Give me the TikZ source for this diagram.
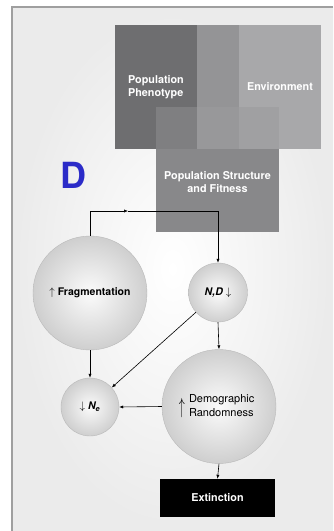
\documentclass[tikz,border=0pt]{standalone}
\usepackage{fontspec}
\setmainfont{TeX Gyre Heros}
\usetikzlibrary{arrows.meta}

\definecolor{phenogray}{HTML}{6E6E70}
\definecolor{envgray}{HTML}{A8A8AA}
\definecolor{midgray}{HTML}{949496}
\definecolor{structgray}{HTML}{88888A}
\definecolor{ovlA}{HTML}{7F7F81}
\definecolor{ovlB}{HTML}{98989A}
\definecolor{ovlC}{HTML}{A0A0A2}
\definecolor{dblue}{HTML}{2B2BC8}

\begin{document}
\begin{tikzpicture}[x=1pt,y=1pt]
    \tikzstyle{every node}+=[inner sep=0pt]
    \tikzstyle{box}=[rectangle, text=white, font=\bfseries\fontsize{10.8}{12.5}\selectfont, align=center]
    \tikzstyle{ball}=[circle, shade, shading=radial, inner color=gray!3, outer color=gray!38, draw=gray!55, line width=0.4pt, align=center]
    \tikzstyle{tip}=[black, line width=0.6pt, -{Latex[length=4pt,width=3.2pt]}]
    \useasboundingbox (0,0) rectangle (333,-531);
    % panel
    \shade [inner color=white, outer color=gray!16] (12,-7) rectangle (333,-531);
    \draw [gray!75, line width=1.5pt] (12,-531) -- (12,-7) -- (333,-7);
    % the three blocks
    \node [box, fill=phenogray, minimum width=82, minimum height=124, align=left] (pheno) at (156,-87) {Population\\Phenotype};
    \node [box, fill=envgray, minimum width=82, minimum height=124] (env) at (280,-87) {Environment};
    \fill [midgray] (pheno.north east) rectangle (env.south west);
    \node [box, fill=structgray, minimum width=123, minimum height=125] (struct) at (217.5,-169.5) {};
    \fill [ovlA] (struct.north west) rectangle (pheno.south east);
    \fill [ovlB] (pheno.south east) rectangle (env.south west |- struct.north);
    \fill [ovlC] (env.south west |- struct.north) rectangle (struct.east |- env.south);
    \node [box] (structlbl) at (217.5,-182) {Population Structure\\and Fitness};
    \node [text=dblue, font=\bfseries\fontsize{36}{36}\selectfont] (panel) at (73.5,-175) {D};
    % circles
    \node [ball, minimum size=114, font=\bfseries\fontsize{10.5}{12.5}\selectfont] (frag) at (90,-293) {$\uparrow$ Fragmentation};
    \node [ball, minimum size=59, font=\bfseries\itshape\fontsize{10.5}{12.5}\selectfont] (nd) at (218,-292.5) {N,D $\downarrow$};
    \node [ball, minimum size=114, font=\fontsize{11}{14}\selectfont, align=left] (demo) at (219,-406.5) {\raisebox{-5pt}{\scalebox{1.1}[2]{$\uparrow$}}\hspace{4pt}\parbox[c]{70pt}{\raggedright Demographic\\Randomness}};
    \node [ball, minimum size=58, font=\bfseries\itshape\fontsize{10.5}{12.5}\selectfont] (ne) at (90,-407) {$\downarrow$ N\textsubscript{e}};
    \node [box, fill=black, minimum width=115, minimum height=38] (ext) at (217.5,-498) {Extinction};
    % arrows
    \coordinate (bend) at (128,-211);
    \draw [tip] (frag.north) |- (bend);
    \draw [tip] (bend) -| (nd.north);
    \draw [tip] (nd.south) -- (demo.north);
    \draw [tip] (nd) -- (ne);
    \draw [tip] (frag.south) -- (ne.north);
    \draw [tip] (demo.west) -- (ne.east);
    \draw [tip] (demo.south) -- (ext.north);
\end{tikzpicture}
\end{document}
